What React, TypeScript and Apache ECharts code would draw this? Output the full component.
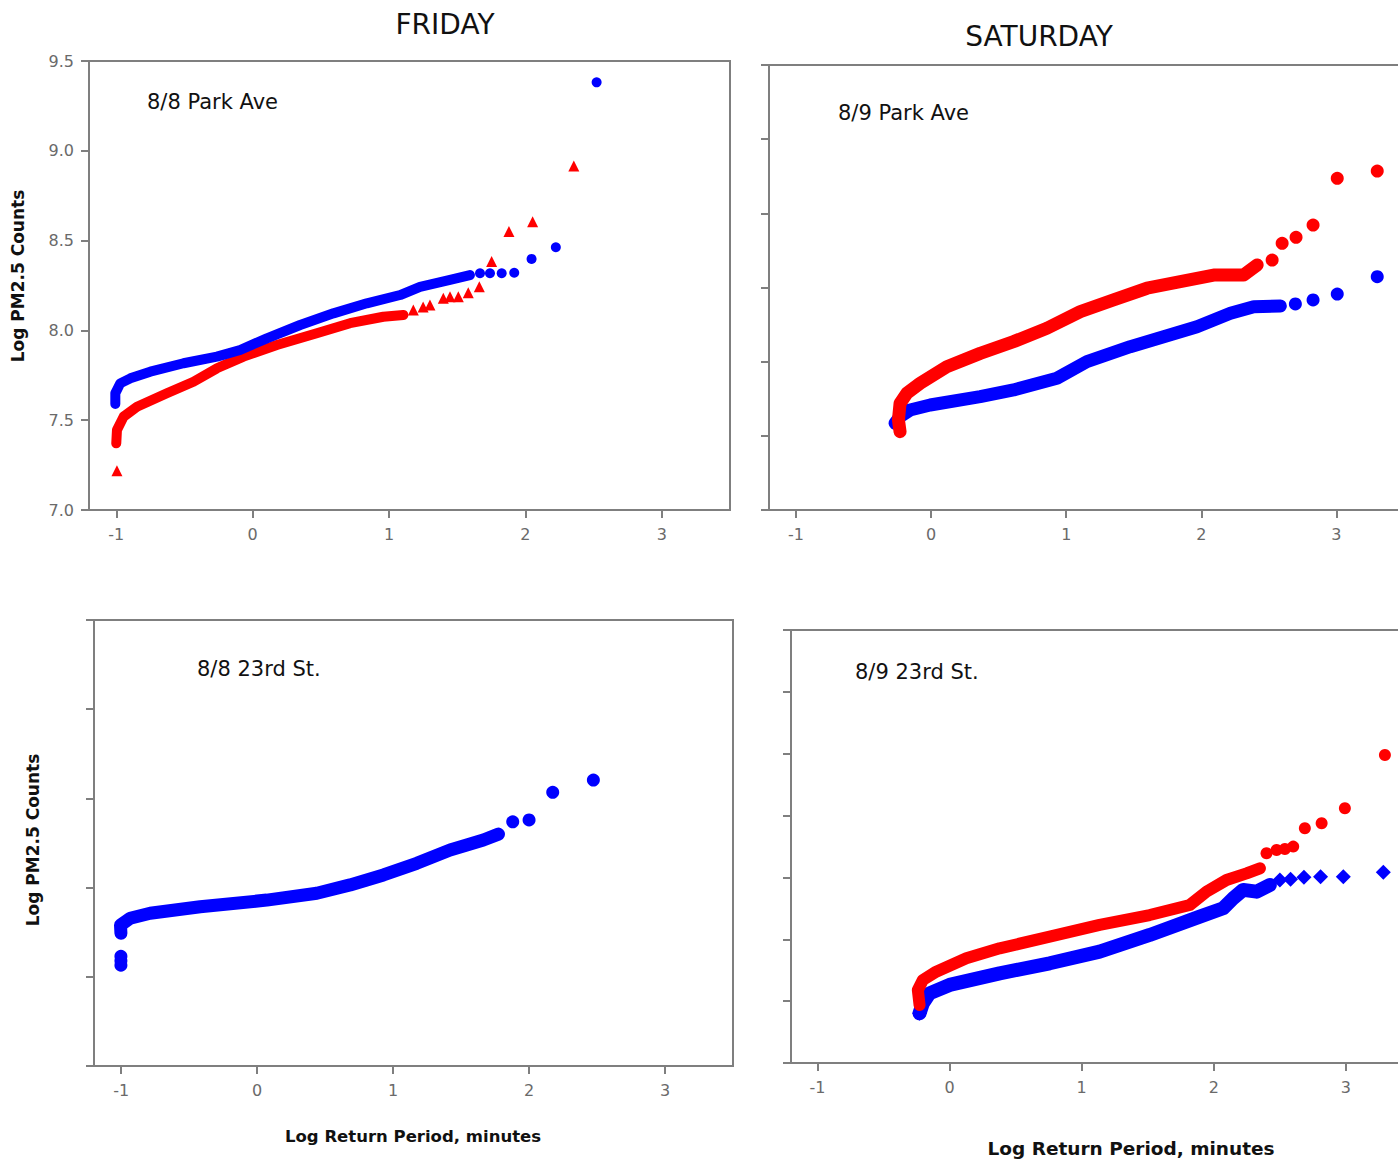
import React, { useEffect, useRef } from "react";
import * as echarts from "echarts";

// ---------- Tick values / labels ----------
const xTickValues = [-1, 0, 1, 2, 3];
const dayTitles = ["FRIDAY", "SATURDAY"];
const panelLabels = ["8/8 Park Ave", "8/9 Park Ave", "8/8 23rd St.", "8/9 23rd St."];
const yAxisTitle = "Log PM2.5 Counts";
const xAxisTitle = "Log Return Period, minutes";

// ---------- Friday, Park Ave (top-left) ----------
const friParkBlueBand = [
  [-1.007, 7.59], [-1.007, 7.65], [-0.971, 7.705], [-0.897, 7.733], [-0.751, 7.77],
  [-0.507, 7.817], [-0.262, 7.854], [-0.092, 7.891], [0.104, 7.956], [0.348, 8.03],
  [0.592, 8.095], [0.837, 8.151], [1.081, 8.197], [1.227, 8.243], [1.447, 8.281], [1.593, 8.308],
];
const friParkBluePoints = [
  [1.667, 8.318], [1.74, 8.318], [1.826, 8.318], [1.918, 8.321], [2.045, 8.398], [2.223, 8.463], [2.522, 9.381],
];
const friParkRedBand = [
  [-1.0, 7.371], [-0.995, 7.445], [-0.946, 7.52], [-0.848, 7.575], [-0.629, 7.65],
  [-0.434, 7.714], [-0.262, 7.789], [-0.067, 7.854], [0.177, 7.919], [0.47, 7.984],
  [0.714, 8.04], [0.958, 8.076], [1.105, 8.086],
];
const friParkRedPoints = [
  [-0.995, 7.219], [1.178, 8.114], [1.25, 8.13], [1.3, 8.141], [1.398, 8.179], [1.447, 8.188],
  [1.508, 8.188], [1.581, 8.21], [1.662, 8.243], [1.752, 8.383], [1.879, 8.55], [2.053, 8.605], [2.355, 8.915],
];

// ---------- Saturday, Park Ave (top-right) ----------
const satParkBlueBand = [
  [-0.267, 7.585], [-0.23, 7.629], [-0.156, 7.674], [-0.007, 7.708], [0.363, 7.764],
  [0.61, 7.809], [0.931, 7.888], [1.153, 8.0], [1.474, 8.101], [1.721, 8.168],
  [1.968, 8.236], [2.215, 8.326], [2.388, 8.371], [2.585, 8.375],
];
const satParkBluePoints = [[2.696, 8.389], [2.827, 8.416], [3.006, 8.456], [3.302, 8.573]];
const satParkRedBand = [
  [-0.23, 7.528], [-0.242, 7.607], [-0.23, 7.719], [-0.18, 7.787], [-0.081, 7.854],
  [0.116, 7.966], [0.363, 8.056], [0.61, 8.135], [0.857, 8.225], [1.104, 8.337],
  [1.35, 8.416], [1.598, 8.495], [1.844, 8.539], [2.091, 8.584], [2.313, 8.584], [2.413, 8.652],
];
const satParkRedPoints = [[2.524, 8.685], [2.598, 8.798], [2.701, 8.838], [2.827, 8.921], [3.006, 9.236], [3.302, 9.285]];

// ---------- Friday, 23rd St. (bottom-left) ----------
const fri23BlueBand = [
  [-1.002, 7.744], [-1.005, 7.79], [-0.934, 7.828], [-0.787, 7.856], [-0.419, 7.893],
  [0.071, 7.93], [0.439, 7.968], [0.684, 8.015], [0.929, 8.071], [1.174, 8.136],
  [1.419, 8.211], [1.542, 8.239], [1.664, 8.267], [1.775, 8.3],
];
const fri23BluePoints = [
  [-1.002, 7.565], [-1.002, 7.59], [-1.002, 7.615], [1.88, 8.369], [2.0, 8.379], [2.174, 8.534], [2.473, 8.603],
];

// ---------- Saturday, 23rd St. (bottom-right) ----------
const sat23BlueBand = [
  [-0.227, 7.402], [-0.202, 7.483], [-0.152, 7.563], [0.0, 7.631], [0.379, 7.725],
  [0.758, 7.806], [1.136, 7.9], [1.515, 8.035], [1.894, 8.183], [2.071, 8.251],
  [2.146, 8.331], [2.222, 8.399], [2.323, 8.385], [2.424, 8.439],
];
const sat23BluePoints = [
  [-0.227, 7.402], [2.5, 8.479], [2.581, 8.485], [2.682, 8.501], [2.808, 8.506], [2.98, 8.506], [3.283, 8.542],
];
const sat23RedBand = [
  [-0.227, 7.469], [-0.24, 7.59], [-0.202, 7.671], [-0.101, 7.738], [0.127, 7.846],
  [0.379, 7.927], [0.758, 8.021], [1.136, 8.116], [1.515, 8.196], [1.818, 8.277],
  [1.945, 8.385], [2.096, 8.479], [2.248, 8.533], [2.349, 8.574],
];
const sat23RedPoints = [
  [2.399, 8.695], [2.475, 8.722], [2.538, 8.73], [2.601, 8.749], [2.689, 8.897], [2.816, 8.938], [2.992, 9.059], [3.295, 9.49],
];

const BLUE = "#0000ff";
const RED = "#ff0000";
const AXIS = "#7f7f7f";
const FONT = "DejaVu Sans";

const grids = [
  { left: 89, top: 61, width: 641, height: 449 },
  { left: 769, top: 65, width: 635, height: 445 },
  { left: 94, top: 620, width: 639, height: 446 },
  { left: 791, top: 630, width: 621, height: 433 },
];
const yMax = [9.5, 10.0, 9.5, 10.5];

function xAxis(gridIndex: number) {
  return {
    type: "value",
    gridIndex,
    min: -1.2,
    max: 3.5,
    axisLine: { show: true, onZero: false, lineStyle: { color: AXIS, width: 2 } },
    axisTick: { show: true, length: 8, customValues: xTickValues, lineStyle: { color: AXIS, width: 2 } },
    axisLabel: { customValues: xTickValues, color: "#6a6a6a", fontFamily: FONT, fontSize: 16, margin: 16 },
    splitLine: { show: false },
  };
}

function yAxis(gridIndex: number) {
  return {
    type: "value",
    gridIndex,
    min: 7,
    max: yMax[gridIndex],
    interval: 0.5,
    axisLine: { show: true, onZero: false, lineStyle: { color: AXIS, width: 2 } },
    axisTick: { show: true, length: 8, lineStyle: { color: AXIS, width: 2 } },
    axisLabel: {
      show: gridIndex === 0,
      color: "#6a6a6a",
      fontFamily: FONT,
      fontSize: 16,
      margin: 15,
      formatter: (v: number) => v.toFixed(1),
    },
    splitLine: { show: false },
  };
}

function band(idx: number, data: number[][], color: string, width: number) {
  return {
    type: "line",
    xAxisIndex: idx,
    yAxisIndex: idx,
    data,
    showSymbol: false,
    silent: true,
    lineStyle: { color, width, cap: "round", join: "round" },
  };
}

function pts(idx: number, data: number[][], color: string, symbol: string, size: number) {
  return {
    type: "scatter",
    xAxisIndex: idx,
    yAxisIndex: idx,
    data,
    symbol,
    symbolSize: size,
    silent: true,
    itemStyle: { color, opacity: 1 },
  };
}

function textEl(text: string, x: number, y: number, size: number, opts: any = {}) {
  return {
    type: "text",
    x,
    y,
    rotation: opts.rotation || 0,
    silent: true,
    style: {
      text,
      fill: opts.fill || "#111111",
      fontFamily: FONT,
      fontSize: size,
      fontWeight: opts.bold ? "bold" : "normal",
      align: opts.align || "center",
      verticalAlign: "middle",
    },
  };
}

export default function App() {
  const ref = useRef<HTMLDivElement>(null);
  useEffect(() => {
    if (!ref.current) return;
    const chart = echarts.init(ref.current, undefined, { renderer: "svg" });
    chart.setOption({
      animation: false,
      backgroundColor: "#ffffff",
      grid: grids.map((g) => ({ ...g, show: true, borderColor: AXIS, borderWidth: 2, backgroundColor: "transparent" })),
      xAxis: [0, 1, 2, 3].map(xAxis),
      yAxis: [0, 1, 2, 3].map(yAxis),
      series: [
        band(0, friParkRedBand, RED, 10),
        pts(0, friParkRedPoints, RED, "triangle", 11),
        band(0, friParkBlueBand, BLUE, 10),
        pts(0, friParkBluePoints, BLUE, "circle", 10),

        band(1, satParkBlueBand, BLUE, 13),
        pts(1, satParkBluePoints, BLUE, "circle", 13),
        band(1, satParkRedBand, RED, 13),
        pts(1, satParkRedPoints, RED, "circle", 13),

        band(2, fri23BlueBand, BLUE, 13),
        pts(2, fri23BluePoints, BLUE, "circle", 13),

        band(3, sat23BlueBand, BLUE, 14),
        pts(3, sat23BluePoints, BLUE, "diamond", 15),
        band(3, sat23RedBand, RED, 12),
        pts(3, sat23RedPoints, RED, "circle", 12),
      ],
      graphic: [
        textEl(dayTitles[0], 445, 24.5, 28),
        textEl(dayTitles[1], 1039, 36.5, 28),
        textEl(panelLabels[0], 147, 102, 21, { align: "left" }),
        textEl(panelLabels[1], 838, 112.5, 21, { align: "left" }),
        textEl(panelLabels[2], 197, 668.5, 21, { align: "left" }),
        textEl(panelLabels[3], 855, 672, 21, { align: "left" }),
        textEl(yAxisTitle, 18, 276, 17, { bold: true, rotation: Math.PI / 2 }),
        textEl(yAxisTitle, 33, 840, 17, { bold: true, rotation: Math.PI / 2 }),
        textEl(xAxisTitle, 413, 1136, 16.5, { bold: true }),
        textEl(xAxisTitle, 1131, 1148, 18.5, { bold: true }),
      ],
    });
    return () => chart.dispose();
  }, []);
  return (
    <div style={{ position: "absolute", left: 0, top: 0, width: 1398, height: 1160, overflow: "hidden", background: "#fff" }}>
      <div ref={ref} style={{ width: 1420, height: 1160 }} />
    </div>
  );
}
